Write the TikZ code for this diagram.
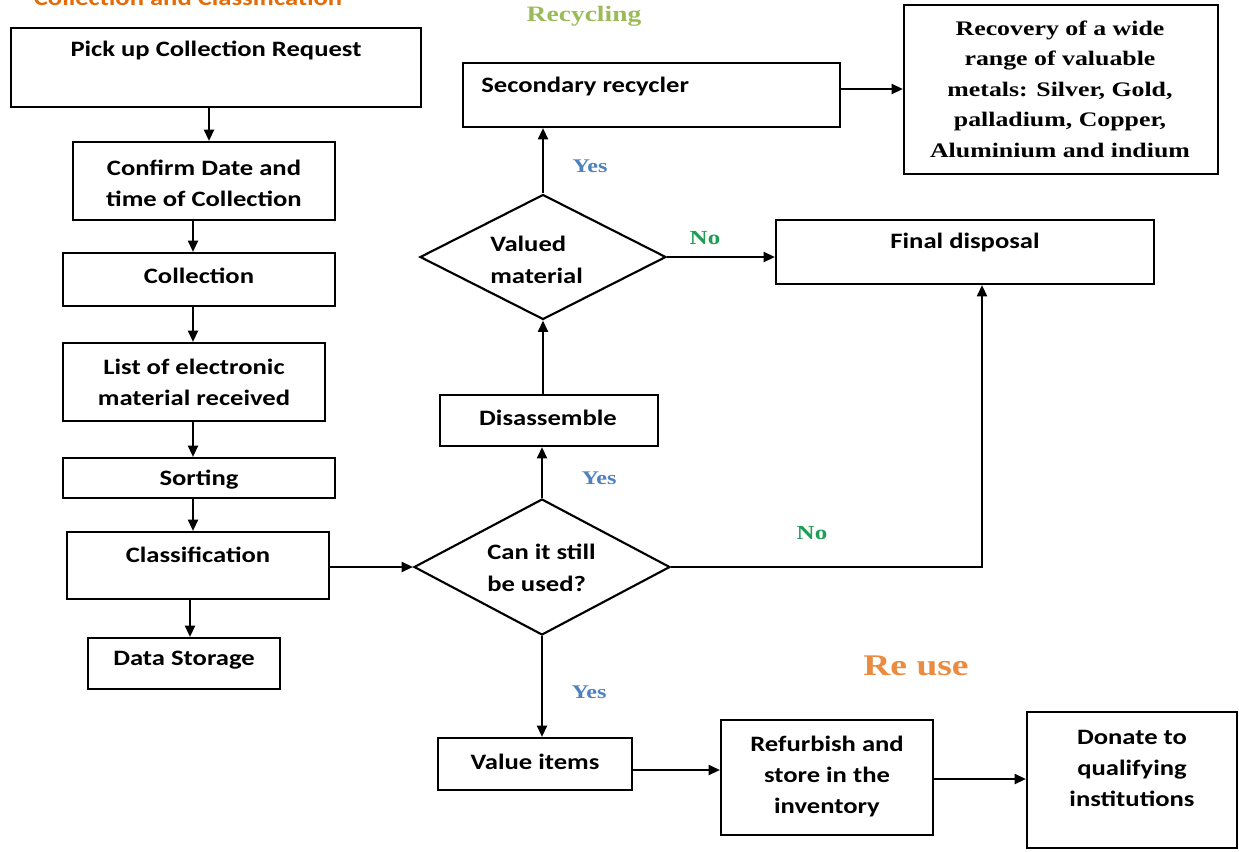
\documentclass[tikz,border=0pt]{standalone}
\usepackage{fontspec}
\setmainfont{Carlito}
\newfontfamily\calw[FakeStretch=1.21]{Carlito}
\newfontfamily\tim[FakeStretch=1.25]{Liberation Serif}
\usetikzlibrary{arrows.meta,shapes.geometric,fit}
\definecolor{ttlorange}{HTML}{E36C09}
\definecolor{reuseorange}{HTML}{E98B40}
\definecolor{recgreen}{HTML}{9BBB59}
\definecolor{yesblue}{HTML}{4F81BD}
\definecolor{nogreen}{HTML}{1F9D55}
\begin{document}
\begin{tikzpicture}[x=0.75pt,y=-0.75pt,
  box/.style={draw,line width=1.6pt,inner sep=0pt},
  dia/.style={draw,diamond,line width=1.6pt,inner sep=0pt},
  txt/.style={inner sep=0pt,align=center,font=\calw\bfseries\fontsize{16.5}{23.25}\selectfont},
  txtl/.style={inner sep=0pt,align=left,font=\calw\bfseries\fontsize{16.5}{24}\selectfont},
  rtxt/.style={inner sep=0pt,align=center,font=\tim\bfseries\fontsize{15.5}{22.9}\selectfont},
  yes/.style={inner sep=0pt,text=yesblue,font=\tim\bfseries\fontsize{14.5}{16}\selectfont},
  no/.style={inner sep=0pt,text=nogreen,font=\tim\bfseries\fontsize{15}{16}\selectfont},
  arr/.style={line width=1.6pt,-{Triangle[length=8.5pt,width=7.5pt]}},
  ln/.style={line width=1.6pt}]
\useasboundingbox (0,0) rectangle (1239,851);

% title (partly cut off at the top, as in the reference)
\node[anchor=base,inner sep=0pt,text=ttlorange,font=\calw\bfseries\fontsize{16.5}{20}\selectfont] (title) at (188,5) {Collection and Classification};
\node[anchor=base,inner sep=0pt,text=recgreen,font=\tim\bfseries\fontsize{16.5}{20}\selectfont] (recyc) at (584,21) {Recycling};
\node[anchor=base,inner sep=0pt,text=reuseorange,font=\tim\bfseries\fontsize{22.5}{26}\selectfont] (reuse) at (916,675) {Re use};

% left column
\node[box,fit={(11,28)(421,107)}] (pick) {};
\node[txt] (pickt) at (216,50) {Pick up Collection Request};
\node[box,fit={(73,142)(335,220)}] (confirm) {};
\node[txt] (confirmt) at (204,183) {Confirm Date and\\time of Collection};
\node[box,fit={(63,253)(335,306)}] (coll) {};
\node[txt] (collt) at (199,276) {Collection};
\node[box,fit={(63,343)(325,421)}] (list) {};
\node[txt] (listt) at (194,382) {List of electronic\\material received};
\node[box,fit={(63,458)(335,498)}] (sort) {};
\node[txt] (sortt) at (199,480) {Sorting};
\node[box,fit={(67,532)(329,599)}] (class) {};
\node[txt] (classt) at (198,555) {Classification};
\node[box,fit={(88,638)(280,689)}] (data) {};
\node[txt] (datat) at (184,660) {Data Storage};

\coordinate (colx) at (193,0);
\coordinate (topx) at (209,0);
\draw[arr] (pick.south -| topx) -- (confirm.north -| topx);
\draw[arr] (confirm.south -| colx) -- (coll.north -| colx);
\draw[arr] (coll.south -| colx) -- (list.north -| colx);
\draw[arr] (list.south -| colx) -- (sort.north -| colx);
\draw[arr] (sort.south -| colx) -- (class.north -| colx);
\coordinate (datax) at (190,0);
\draw[arr] (class.south -| datax) -- (data.north -| datax);

% decisions
\node[dia,minimum width=256*0.75pt,minimum height=136*0.75pt] (can) at (542,567) {};
\node[txtl,anchor=west] (cant) at (487,568) {Can it still\\be used?};
\node[dia,minimum width=246*0.75pt,minimum height=125*0.75pt] (valued) at (543,257) {};
\node[txtl,anchor=west] (valuedt) at (490,260) {Valued\\material};

\node[box,fit={(440,395)(658,446)}] (disas) {};
\node[txt] (disast) at (548,418) {Disassemble};
\node[box,fit={(463,63)(840,127)}] (sec) {};
\node[txt,anchor=west] (sect) at (481,87) {Secondary recycler};
\node[box,fit={(904,5)(1218,174)}] (recov) {};
\node[rtxt] (recovt) at (1060,89) {Recovery of a wide\\range of valuable\\metals: Silver, Gold,\\palladium, Copper,\\Aluminium and indium};
\node[box,fit={(776,220)(1154,284)}] (final) {};
\node[txt] (finalt) at (965,243) {Final disposal};

\node[box,fit={(438,738)(632,790)}] (value) {};
\node[txt] (valuet) at (535,762) {Value items};
\node[box,fit={(721,720)(933,835)}] (refurb) {};
\node[txt] (refurbt) at (827,776) {Refurbish and\\store in the\\inventory};
\node[box,fit={(1027,712)(1237,848)}] (donate) {};
\node[txt] (donatet) at (1132,768) {Donate to\\qualifying\\institutions};

% connectors
\draw[arr] (class.east |- can.west) -- (can.west);
\draw[arr] (can.north) -- (can.north |- disas.south);
\draw[arr] (valued.south |- disas.north) -- (valued.south);
\draw[arr] (valued.north) -- (valued.north |- sec.south);
\coordinate (recy) at (0,89);
\draw[arr] (sec.east |- recy) -- (recov.west |- recy);
\draw[arr] (valued.east) -- (valued.east -| final.west);
\coordinate (fx) at (982,0);
\draw[arr] (can.east) -| (fx |- final.south);
\draw[arr] (can.south) -- (can.south |- value.north);
\coordinate (vy) at (0,770);
\draw[arr] (value.east |- vy) -- (refurb.west |- vy);
\coordinate (ry) at (0,779);
\draw[arr] (refurb.east |- ry) -- (donate.west |- ry);

% branch labels
\node[yes] (yes1) at (590,166) {Yes};
\node[yes] (yes2) at (599,478) {Yes};
\node[yes] (yes3) at (589,692) {Yes};
\node[no] (no1) at (705,238) {No};
\node[no] (no2) at (812,533) {No};
\end{tikzpicture}
\end{document}
